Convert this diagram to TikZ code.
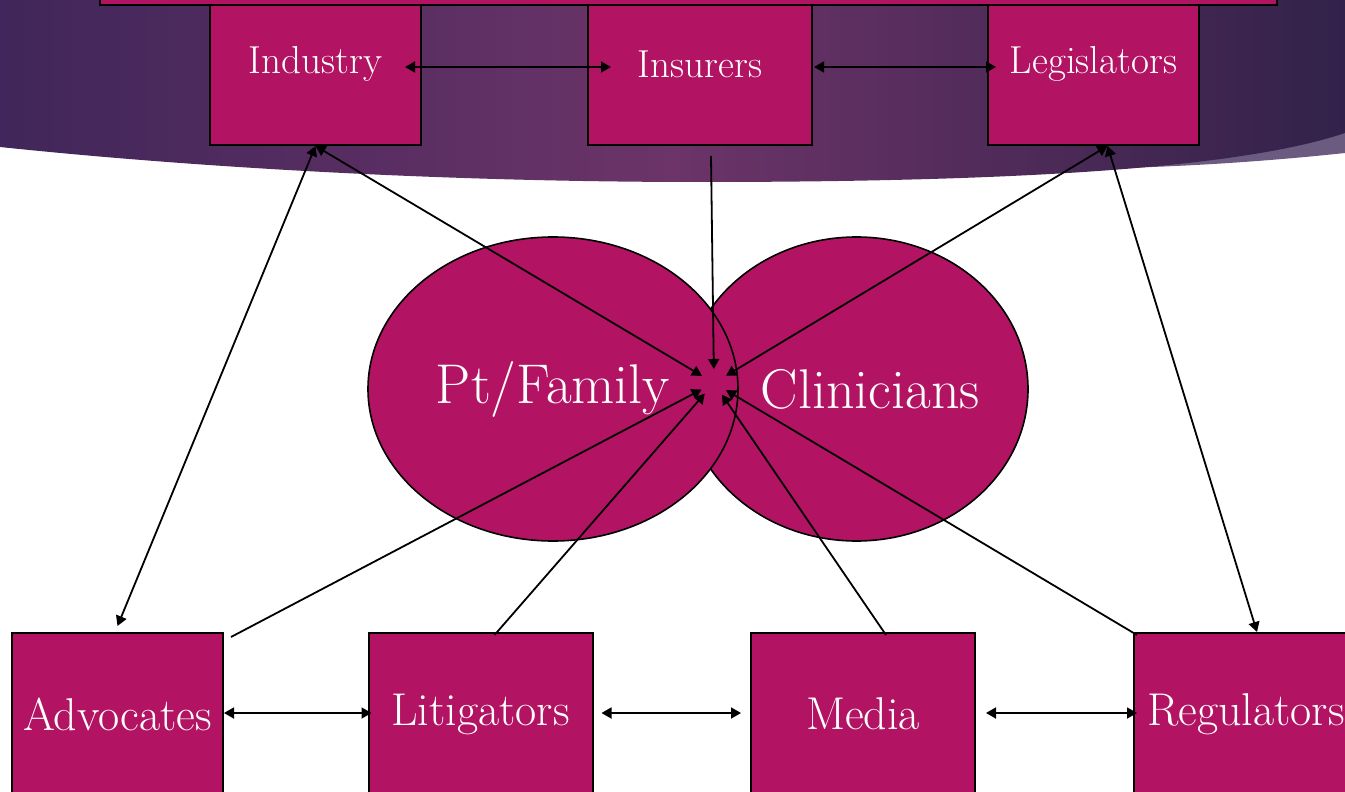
\documentclass[tikz,border=0pt]{standalone}
\usepackage{fontspec}
\usetikzlibrary{arrows.meta,calc,shapes.geometric}

\definecolor{boxmagenta}{HTML}{B21463}
\definecolor{bandleft}{HTML}{40265A}
\definecolor{bandmid}{HTML}{6C3468}
\definecolor{bandright}{HTML}{32224A}
\definecolor{swoosh}{HTML}{6B5B80}

\tikzset{
  actor/.style={draw=black, line width=1pt, fill=boxmagenta, text=white, minimum height=81pt, inner sep=0pt},
  narrowbox/.style={actor, minimum width=105.5pt},
  widebox/.style={actor, minimum width=112pt},
  toplabel/.style={font=\fontsize{19.5}{22}\selectfont},
  lowlabel/.style={font=\fontsize{23}{26}\selectfont},
  party/.style={ellipse, draw=black, line width=0.8pt, fill=boxmagenta, inner sep=0pt, minimum height=152pt},
  partytext/.style={text=white, font=\fontsize{28}{32}\selectfont},
  link/.style={line width=0.9pt, <->},
  tohub/.style={line width=0.9pt, ->, shorten >=7pt}
}

\begin{document}
\begin{tikzpicture}[x=0.5pt, y=-0.5pt, >={Triangle[length=5pt,width=5.5pt]}]
  \useasboundingbox (0,0) rectangle (1345,792);

  % 1. banner behind the top row
  \fill[swoosh] (1345,120) -- (1345,153) .. controls (1280,160) and (1200,166) .. (1120,168) -- (1120,140) -- cycle;
  \shade[left color=bandleft, right color=bandright, middle color=bandmid]
    (0,0) -- (1345,0) -- (1345,133) .. controls (1250,165) and (1050,182) .. (700,182)
    .. controls (450,182) and (200,168) .. (0,147) -- cycle;

  % 2. top row (the bar overlaps the boxes)
  \node[narrowbox, toplabel] (ind) at (315.5,64) {Industry};
  \node[widebox, toplabel] (ins) at (700,64) {Insurers};
  \node[narrowbox, toplabel] (leg) at (1093.5,64) {Legislators};
  \filldraw[fill=boxmagenta, line width=1pt] (100,-30) rectangle (1277,5);

  % 3. the two overlapping ellipses
  \node[party, minimum width=171.5pt, label={[partytext, xshift=7pt]center:Clinicians}] (cli) at (856.5,389) {};
  \node[party, partytext, minimum width=185pt] (pt) at (553,389) {Pt/Family};

  % 4. bottom row
  \node[narrowbox, lowlabel] (adv) at (117.5,714) {Advocates};
  \node[widebox, lowlabel] (lit) at (480.5,714) {Litigators};
  \node[widebox, lowlabel] (med) at (863,714) {Media};
  \node[widebox, lowlabel] (reg) at (1246,714) {Regulators};

  % 5. connectors
  \coordinate (hub) at (714,383);
  \draw[link] ($(ind.east)+(-17,3)$) -- ($(ins.west)+(24,3)$);
  \draw[link] ($(ins.east)+(1,3)$) -- ($(leg.west)+(9,3)$);
  \draw[link] ($(adv.east)+(0,-1)$) -- ($(lit.west)+(4,-1)$);
  \draw[link] ($(lit.east)+(8,-1)$) -- ($(med.west)+(-9,-1)$);
  \draw[link] ($(med.east)+(10,-1)$) -- ($(reg.west)+(4,-1)$);
  \draw[link] (ind.south) -- ($(adv.north)+(0,-6)$);
  \draw[link] ($(leg.south)+(14,0)$) -- ($(reg.north)+(11,0)$);
  \draw[link, shorten >=7pt] (ind.south) -- (hub);
  \draw[link, shorten >=7pt] ($(leg.south)+(14,0)$) -- (hub);
  \draw[tohub] ($(ins.south)+(11,10)$) -- (hub);
  \draw[tohub] ($(adv.north east)+(7,5)$) -- (hub);
  \draw[tohub] ($(lit.north)+(14,3)$) -- (hub);
  \draw[tohub] ($(med.north)+(23,3)$) -- (hub);
  \draw[tohub] ($(reg.north west)+(4,3)$) -- (hub);
\end{tikzpicture}
\end{document}
